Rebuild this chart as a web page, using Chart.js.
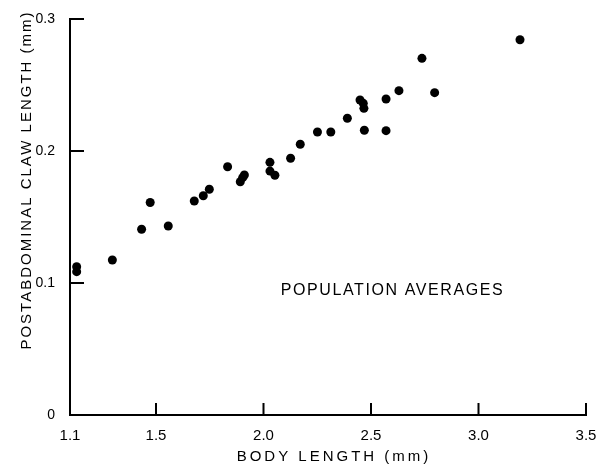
<!DOCTYPE html>
<html>
<head>
<meta charset="utf-8">
<script src="https://cdn.jsdelivr.net/npm/chart.js@4.4.1/dist/chart.umd.min.js"></script>
<style>
  html, body { margin: 0; padding: 0; background: #fff; }
  #wrap { width: 603px; height: 467px; }
</style>
</head>
<body>
<div id="wrap"><canvas id="chartCanvas" width="603" height="467"></canvas></div>
<script>
// body length vs postabdominal claw length (population averages)
const bodyLength = [1.131, 1.131, 1.297, 1.433, 1.473, 1.557, 1.678, 1.72, 1.748, 1.833,
    1.892, 1.903, 1.911, 2.03, 2.03, 2.053, 2.126, 2.171, 2.251, 2.313,
    2.39, 2.449, 2.464, 2.467, 2.469, 2.57, 2.57, 2.63, 2.737, 2.796, 3.193];
const clawLength = [0.1124, 0.1086, 0.1174, 0.1407, 0.161, 0.1432, 0.1621, 0.1661, 0.171, 0.1881,
    0.1767, 0.1798, 0.1818, 0.1914, 0.1848, 0.1816, 0.1945, 0.2051, 0.2144, 0.2144,
    0.2248, 0.2386, 0.2361, 0.2323, 0.2157, 0.2394, 0.2154, 0.2457, 0.2702, 0.2442, 0.2843];

const xTicks = [1.1, 1.5, 2.0, 2.5, 3.0, 3.5];
const yTicks = [0, 0.1, 0.2, 0.3];

const xTitle = 'BODY LENGTH (mm)';
const yTitle = 'POSTABDOMINAL CLAW LENGTH (mm)';
const note = 'POPULATION AVERAGES';
const notePos = [2.6, 0.094];

const FONT = '"Liberation Sans", Arial, sans-serif';

// inward tick marks + spaced-out lettering for titles
const letteringPlugin = {
    id: 'lettering',
    afterDraw(chart) {
        const ctx = chart.ctx;
        const xs = chart.scales.x;
        const ys = chart.scales.y;
        const area = chart.chartArea;
        ctx.save();
        ctx.strokeStyle = '#000';
        ctx.lineWidth = 2;
        ctx.beginPath();
        yTicks.forEach(v => {
            if (v === yTicks[0]) return;
            const y = ys.getPixelForValue(v);
            ctx.moveTo(area.left, y);
            ctx.lineTo(area.left + 14, y);
        });
        xTicks.forEach(v => {
            if (v === xTicks[0]) return;
            const x = xs.getPixelForValue(v);
            ctx.moveTo(x, area.bottom);
            ctx.lineTo(x, area.bottom - 12);
        });
        ctx.stroke();

        ctx.fillStyle = '#000';
        ctx.textAlign = 'center';
        ctx.textBaseline = 'middle';

        ctx.font = '15px ' + FONT;
        ctx.letterSpacing = '3px';
        ctx.fillText(xTitle, 334, 457);

        ctx.save();
        ctx.translate(27, 180);
        ctx.rotate(-Math.PI / 2);
        ctx.font = '15px ' + FONT;
        ctx.letterSpacing = '2px';
        ctx.fillText(yTitle, 0, 0);
        ctx.restore();

        ctx.font = '16px ' + FONT;
        ctx.letterSpacing = '1.6px';
        ctx.fillText(note, xs.getPixelForValue(notePos[0]), ys.getPixelForValue(notePos[1]));
        ctx.restore();
    }
};

const ctx = document.getElementById('chartCanvas').getContext('2d');
const chart = new Chart(ctx, {
    type: 'scatter',
    data: {
        datasets: [{
            label: note,
            data: bodyLength.map((x, i) => ({ x: x, y: clawLength[i] })),
            backgroundColor: '#000',
            borderColor: '#000',
            borderWidth: 0,
            pointRadius: 4.5,
            pointHoverRadius: 4.5
        }]
    },
    options: {
        responsive: false,
        animation: false,
        layout: { padding: { top: 19, right: 17, left: 0, bottom: 0 } },
        plugins: {
            legend: { display: false },
            tooltip: { enabled: false }
        },
        scales: {
            x: {
                type: 'linear',
                min: 1.1,
                max: 3.5,
                afterBuildTicks: scale => { scale.ticks = xTicks.map(v => ({ value: v })); },
                afterFit: scale => { scale.height = 52; },
                grid: { display: false },
                border: { display: true, color: '#000', width: 2 },
                ticks: {
                    color: '#000',
                    padding: 4,
                    maxRotation: 0,
                    font: { family: FONT, size: 15 },
                    callback: v => v.toFixed(1)
                }
            },
            y: {
                min: 0,
                max: 0.3,
                afterBuildTicks: scale => { scale.ticks = yTicks.map(v => ({ value: v })); },
                afterFit: scale => { scale.width = 70; },
                grid: { display: false },
                border: { display: true, color: '#000', width: 2 },
                ticks: {
                    color: '#000',
                    padding: 7,
                    font: { family: FONT, size: 14 },
                    callback: v => v === 0 ? '0' : v.toFixed(1)
                }
            }
        }
    },
    plugins: [letteringPlugin]
});
</script>
</body>
</html>
